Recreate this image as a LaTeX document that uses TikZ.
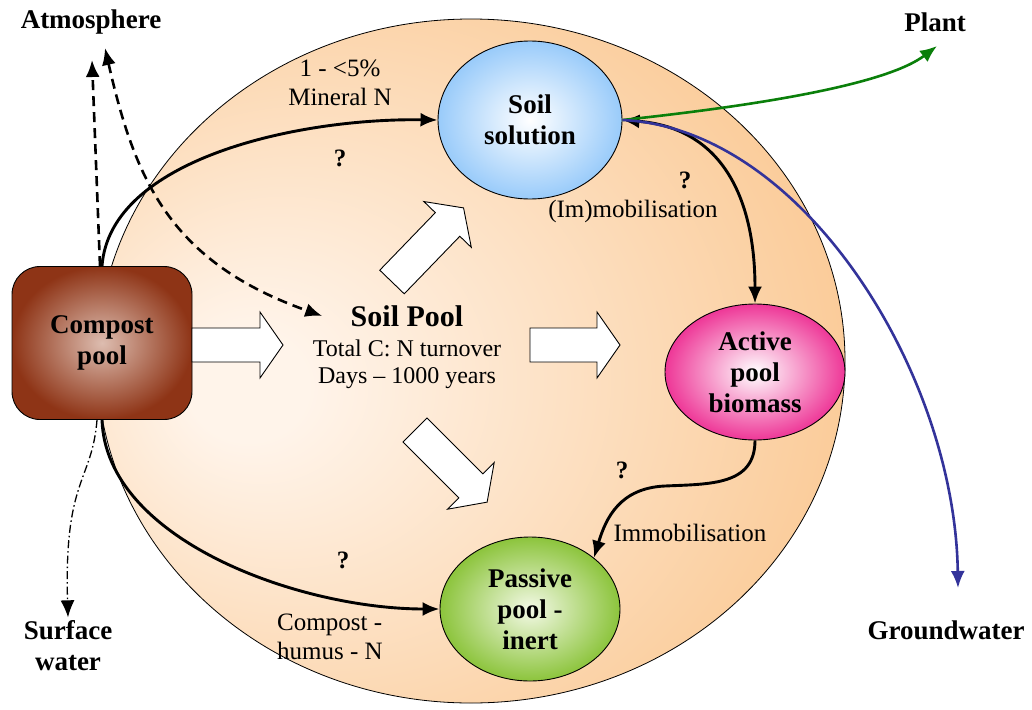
\documentclass[tikz,border=0pt]{standalone}
\usepackage{fontspec}
\setmainfont{Liberation Serif}
\usetikzlibrary{shapes.geometric,arrows.meta}

\definecolor{soilin}{HTML}{FFF4EA}
\definecolor{soilout}{HTML}{FAC790}
\definecolor{compostout}{HTML}{8E3416}
\definecolor{compostin}{HTML}{DDBDB0}
\definecolor{solutionout}{HTML}{99CBFA}
\definecolor{activeout}{HTML}{EE3797}
\definecolor{passiveout}{HTML}{8CC43C}
\definecolor{passivein}{HTML}{F3F9E6}
\definecolor{plantgreen}{HTML}{0A7F0A}
\definecolor{waterblue}{HTML}{33339A}

\pgfdeclareradialshading{soilbody}{\pgfpoint{-16bp}{-2bp}}{color(0bp)=(soilin); color(4bp)=(soilin); color(36bp)=(soilout); color(60bp)=(soilout)}

\tikzset{
  pool/.style={draw=black, line width=0.9pt, shading=radial, inner sep=0pt, align=center,
    font=\bfseries\fontsize{27}{31}\selectfont},
  place/.style={font=\bfseries\fontsize{27}{31}\selectfont, align=center},
  lbl/.style={font=\fontsize{25}{29}\selectfont, align=center},
  qmark/.style={font=\bfseries\fontsize{25}{29}\selectfont},
  flow/.style={line width=2.9pt, -{Latex[length=17pt,width=14pt]}},
  fatarrow/.style={draw=black, fill=white, line width=0.9pt},
}

\begin{document}
\begin{tikzpicture}[x=1pt,y=-1pt]
\useasboundingbox (0,0) rectangle (1032,709);

% the soil body
\node[ellipse, draw, line width=0.8pt, minimum width=748pt, minimum height=684pt,
  inner sep=0pt, shading=soilbody] (soil) at (471,361) {};

% pools
\node[pool, rectangle, rounded corners=28pt, minimum width=180pt, minimum height=153pt,
  inner color=compostin, outer color=compostout] (compost) at (102,343) {Compost\\pool};
\node[pool, ellipse, minimum width=184pt, minimum height=158pt,
  inner color=white, outer color=solutionout] (solution) at (530,120) {Soil\\solution};
\node[pool, ellipse, minimum width=180pt, minimum height=136pt,
  inner color=white, outer color=activeout] (active) at (755,372) {Active\\pool\\biomass};
\node[pool, ellipse, minimum width=180pt, minimum height=144pt,
  inner color=passivein, outer color=passiveout] (passive) at (530,609) {Passive\\pool -\\inert};

\node[font=\bfseries\fontsize{30}{34}\selectfont] (pooltitle) at (407,316) {Soil Pool};
\node[font=\fontsize{24}{27}\selectfont, align=center] (pooltext) at (407,364) {Total C: N turnover\\Days -- 1000 years};

% outside
\node[place] (atmo) at (91,22) {Atmosphere};
\node[place] (plant) at (935,22) {Plant};
\node[place] (surface) at (68,646) {Surface\\water};
\node[place] (groundw) at (946,630) {Groundwater};
\coordinate (atmo1) at (92,60);
\coordinate (atmo2) at (105,48);
\coordinate (plantin) at (937,46);
\coordinate (gwin) at (958,588);

% fat arrows
\foreach \x/\y/\a/\l in {192/345/0/91, 530/345/0/90, 392/282/46/103, 415/430/-45/102}
  \draw[fatarrow, shift={(\x,\y)}, rotate=\a]
    (0,-17) -- ({\l-23},-17) -- ({\l-23},-33) -- (\l,0) -- ({\l-23},33) -- ({\l-23},17) -- (0,17) -- cycle;

% flows
\draw[flow] (compost.north) .. controls +(8,-107) and +(-140,-2) .. (solution.west);
\draw[flow] (compost.south) .. controls +(4,120) and +(-140,0) .. (passive.west);
\draw[flow, {Latex[length=17pt,width=14pt]}-{Latex[length=17pt,width=14pt]}]
  (solution.east) .. controls +(100,8) and +(0,-105) .. (active.north);
\draw[flow] (active.south) .. controls +(0,45) and +(45,-2) .. (665,486)
  .. controls +(-45,2) and +(12,-40) .. (passive.north east);
\draw[flow, plantgreen, line width=2.6pt] (solution.east) .. controls +(140,-15) and +(-50,38) .. (plantin);
\draw[flow, waterblue, line width=2.6pt] (solution.east) .. controls +(180,8) and +(-3,-215) .. (gwin);

% losses
\draw[flow, line width=2.6pt, dash pattern=on 10pt off 6pt] ([xshift=-2pt]compost.north) -- (atmo1);
\draw[flow, line width=2.6pt, dash pattern=on 10pt off 6pt, {Latex[length=17pt,width=14pt]}-{Latex[length=17pt,width=14pt]}]
  (atmo2) .. controls (135,180) and (170,262) .. ([xshift=-25pt]pooltitle.west);
\draw[flow, line width=1.3pt, dash pattern=on 8pt off 3pt on 1.5pt off 3pt]
  ([xshift=-5pt]compost.south) .. controls (92,482) and (64,478) .. (surface.north);

% labels
\node[lbl] (minlbl) at (340,83) {1 - <5\%\\Mineral N};
\node[qmark] (q1) at (340,158) {?};
\node[qmark] (q2) at (685,180) {?};
\node[lbl] (imlbl) at (633,211) {(Im)mobilisation};
\node[qmark] (q3) at (622,470) {?};
\node[lbl] (immlbl) at (690,533) {Immobilisation};
\node[qmark] (q4) at (343,560) {?};
\node[lbl, align=left] (humlbl) at (330,637) {Compost -\\humus - N};
\end{tikzpicture}
\end{document}
